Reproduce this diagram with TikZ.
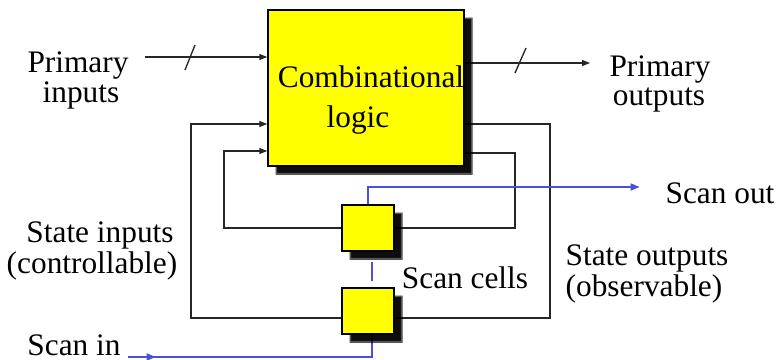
\documentclass[tikz,border=0pt]{standalone}
\usepackage{fontspec}
\setmainfont{Liberation Serif}
\usetikzlibrary{arrows.meta,shadows.blur}
\definecolor{scanblue}{RGB}{70,82,222}
\definecolor{boxyellow}{RGB}{255,255,0}
\pgfdeclarelayer{bg}
\pgfsetlayers{bg,main}

\begin{document}
\begin{tikzpicture}[x=0.75pt,y=-0.75pt,
  lbl/.style={font=\fontsize{23.5}{22.5}\selectfont, inner sep=0pt, anchor=base},
  wire/.style={draw=black!85, line width=1pt},
  tip/.style={-{Triangle[length=6pt,width=4.5pt]}},
  sig/.style={draw=scanblue, line width=1.9pt},
  sigtip/.style={-{Triangle[length=7pt,width=5pt]}},
  block/.style={draw=black, line width=1.1pt, fill=boxyellow, inner sep=0pt,
    blur shadow={shadow xshift=6pt, shadow yshift=-6pt, shadow opacity=95,
                 shadow blur radius=1pt}},
]
\useasboundingbox (0,0) rectangle (781,360);

% combinational block and the two scan cells
\node[block, minimum width=147pt, minimum height=117pt] (logic) at (366,88) {};
\node[block, minimum width=39pt, minimum height=34.5pt] (c1) at (368,228) {};
\node[block, minimum width=39pt, minimum height=34.5pt] (c2) at (368,311) {};

\node[lbl] (cl1) at (371,88) {Combinational};
\node[lbl] (cl2) at (358,127) {logic};

% wiring, kept under the blocks and their shadows
\begin{pgfonlayer}{bg}
  % primary inputs / outputs (buses)
  \coordinate (piS) at (145,57);
  \draw[wire,tip] (piS) -- (piS -| logic.west);
  \draw[wire] (185,70) -- (195,45);
  \coordinate (poE) at (590,63);
  \draw[wire,tip] (poE -| logic.east) -- (poE);
  \draw[wire] (515,73) -- (526,48);

  % outer state loop through the lower cell
  \coordinate (oL) at (191,318);
  \coordinate (oR) at (550,318);
  \draw[wire,tip] (c2.west |- oL) -- (oL) -- (oL |- 0,124) -- (logic.west |- 0,124);
  \draw[wire] (c2.east |- oR) -- (oR) -- (oR |- 0,124) -- (logic.east |- 0,124);

  % inner state loop through the upper cell
  \coordinate (iL) at (224,228);
  \coordinate (iR) at (515,228);
  \draw[wire,tip] (c1.west) -- (iL) -- (iL |- 0,151) -- (logic.west |- 0,151);
  \draw[wire] (c1.east) -- (iR) -- (iR |- 0,153) -- (logic.east |- 0,153);

  % scan chain
  \coordinate (sout) at (640,187);
  \draw[sig,sigtip] (c1.north) -- (c1.north |- sout) -- (sout);
  \draw[sig, shorten <=7.5pt, shorten >=4.5pt]
    ([xshift=3pt]c1.south) -- ([xshift=3pt]c2.north);
  \coordinate (sinS) at (128,357);
  \draw[sig] (sinS) -| ([xshift=3pt]c2.south);
  \draw[sig,sigtip] (sinS) -- (156,357);
\end{pgfonlayer}

% labels
\node[lbl] (pi1) at (78,73) {Primary};
\node[lbl] (pi2) at (81,103) {inputs};
\node[lbl] (po1) at (660,76) {Primary};
\node[lbl] (po2) at (659,105) {outputs};
\node[lbl] (soutl) at (720,203) {Scan out};
\node[lbl] (scells) at (465,288) {Scan cells};
\node[lbl] (st1) at (100,242) {State inputs};
\node[lbl] (st2) at (92,273) {(controllable)};
\node[lbl] (so1) at (647,265) {State outputs};
\node[lbl] (so2) at (644,296) {(observable)};
\node[lbl] (sinl) at (74,355) {Scan in};
\end{tikzpicture}
\end{document}
